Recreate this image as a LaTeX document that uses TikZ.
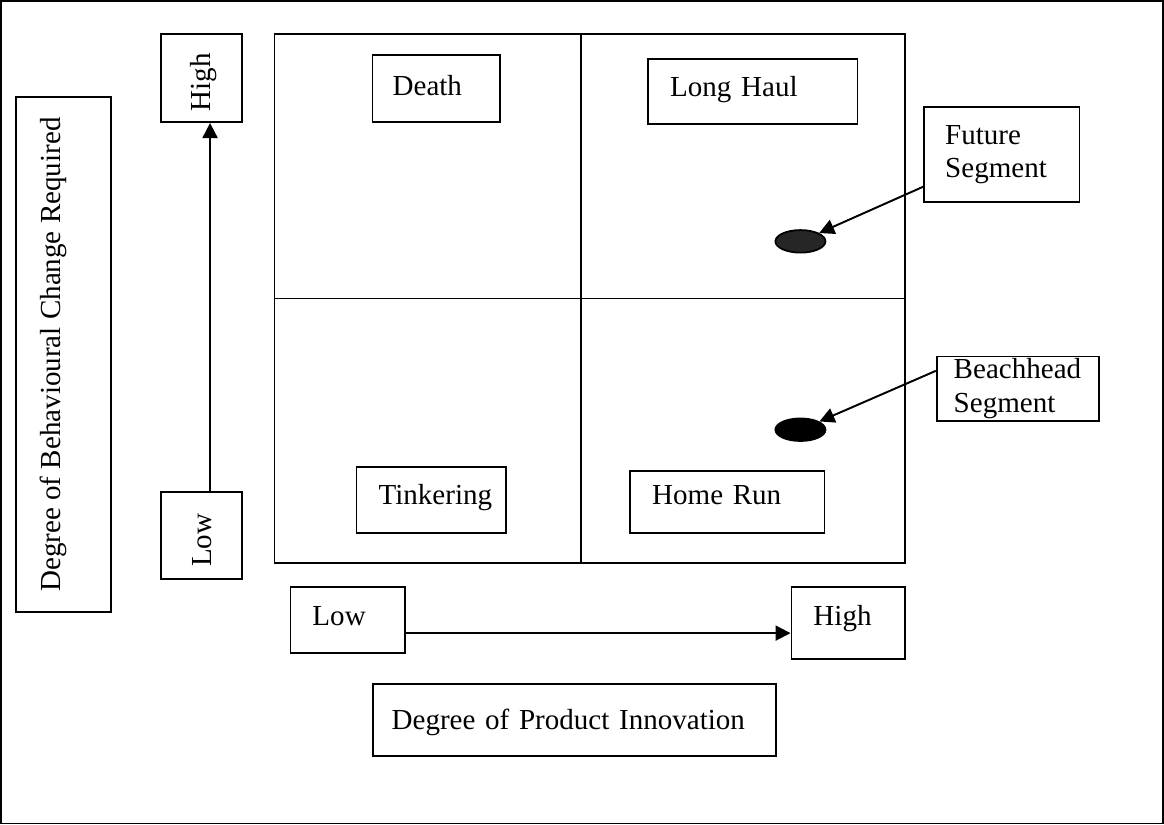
\documentclass[tikz,border=0pt]{standalone}
\usepackage{fontspec}
\setmainfont{Liberation Serif}
\usetikzlibrary{calc, shapes.geometric, arrows.meta}

\begin{document}
\begin{tikzpicture}[x = 0.02cm, y = -0.02cm, > = {Triangle[length = 0.3cm, width = 0.3cm]}, line width = 1pt,
	txtbox/.style = {draw, rectangle, align = left, inner ysep = 0pt, font = \fontsize{16.5}{19}\selectfont},
	segdot/.style = {ellipse, draw, inner sep = 0pt, minimum width = 1cm, minimum height = 0.45cm}]

	% Frame
	
	\draw (2, 2) rectangle (1162, 823);
	
	% Quadrants
	
	\draw (275, 35) rectangle (904, 563);
	\draw (581, 35) -- (581, 563);
	\draw (275, 299) -- (904, 299);
	
	% Vertical axis
	
	\node [txtbox, rotate = 90, inner xsep = 0pt, minimum width = 10.28cm, text height = 0.9cm, text depth = 1cm] (behav) at (64.5, 355) {Degree of Behavioural Change Required};
	\node [txtbox, rotate = 90, inner xsep = 0.22cm, text width = 1.32cm, text height = 0.98cm, text depth = 0.64cm] (highv) at (202.5, 79) {High};
	\node [txtbox, rotate = 90, inner xsep = 0.24cm, text width = 1.26cm, text height = 1cm, text depth = 0.62cm] (lowv) at (202.5, 535.5) {Low};
	
	\draw [->, line width = 1.1pt] ($(lowv.north east)!0.6!(lowv.south east)$) -- ($(highv.north west)!0.6!(highv.south west)$);
	
	% Horizontal axis
	
	\node [txtbox, inner xsep = 0.44cm, text width = 1.4cm, text height = 0.76cm, text depth = 0.56cm] (lowh) at (348, 620) {Low};
	\node [txtbox, inner xsep = 0.44cm, text width = 1.38cm, text height = 0.76cm, text depth = 0.68cm] (highh) at (847.5, 623) {High};
	\node [txtbox, inner xsep = 0.38cm, text width = 7.3cm, text height = 0.9cm, text depth = 0.54cm] (innov) at (574.5, 720) {Degree of Product Innovation};
	
	\coordinate (lowout) at ([yshift = -0.26cm] lowh.east);
	\draw [->, line width = 1.1pt] (lowout) -- (lowout -| highh.west);
	
	% Quadrant names
	
	\node [txtbox, inner xsep = 0.4cm, text width = 1.74cm, text height = 0.8cm, text depth = 0.54cm] (death) at (436.5, 89.5) {Death};
	\node [txtbox, inner xsep = 0.44cm, text width = 3.3cm, text height = 0.74cm, text depth = 0.56cm] (longhaul) at (752.5, 92.5) {Long Haul};
	\node [txtbox, inner xsep = 0.44cm, text width = 2.1cm, text height = 0.76cm, text depth = 0.56cm] (tinker) at (431.5, 500) {Tinkering};
	\node [txtbox, inner xsep = 0.44cm, text width = 3.0cm, text height = 0.68cm, text depth = 0.56cm] (homerun) at (727, 502) {Home Run};
	
	% Segments
	
	\node [segdot, fill = black!85] (future) at (800, 242) {};
	\node [segdot, fill = black] (beach) at (800, 430) {};
	
	\node [txtbox, inner xsep = 0.42cm, text width = 2.26cm, minimum height = 1.9cm] (futbox) at (1001, 155.5) {Future\\Segment};
	\node [txtbox, inner xsep = 0.34cm, text width = 2.56cm, minimum height = 1.28cm] (beachbox) at (1017, 389) {Beachhead\\Segment};
	
	\draw [->, line width = 1.1pt] ($(futbox.south west)!0.17!(futbox.north west)$) -- (future);
	\draw [->, line width = 1.1pt] ($(beachbox.north west)!0.23!(beachbox.south west)$) -- (beach);
	
\end{tikzpicture}
\end{document}
